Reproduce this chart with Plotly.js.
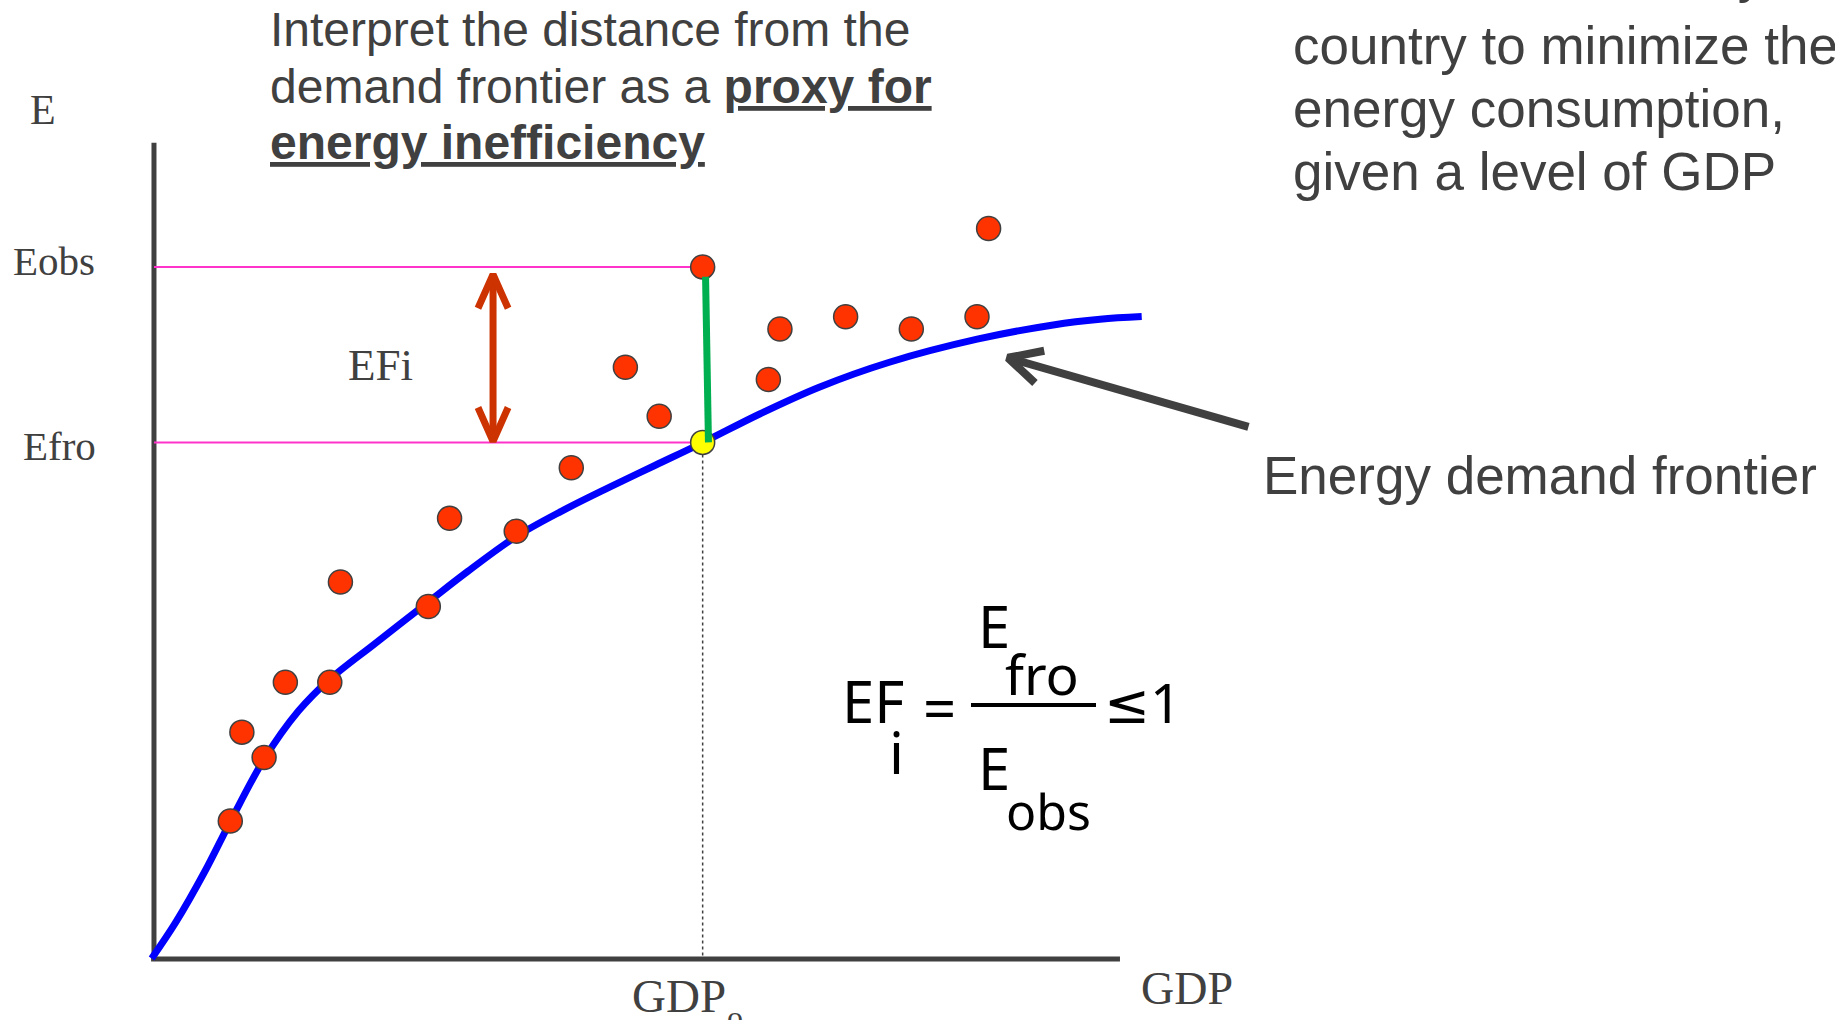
<!DOCTYPE html>
<html>
<head>
<meta charset="utf-8">
<script src="https://cdn.plot.ly/plotly-3.0.1.min.js"></script>
<style>html,body{margin:0;padding:0;background:#fff;overflow:hidden}</style>
</head>
<body>
<div id="chart" style="width:1835px;height:1020px"></div>
<script>
// ---------------- data (GDP / energy, arbitrary units, axis = 0..100) ----------------
const countryGDP = [7.9, 9.1, 11.4, 13.6, 18.2, 19.3, 28.4, 30.6, 37.5, 43.2, 48.8, 52.3, 56.8, 63.6, 64.8, 71.6, 78.4, 85.2, 86.4];
const countryE   = [16.9, 27.8, 24.7, 33.9, 33.9, 46.2, 43.2, 54.0, 52.4, 60.2, 72.5, 66.5, 84.8, 71.0, 77.2, 78.7, 77.2, 78.7, 89.5];

const frontierGDP = [-0.24, 2.23, 5.26, 7.92, 11.44, 14.95, 18.10, 22.83, 28.40, 32.52, 37.48, 42.21, 47.06, 51.90, 56.75, 62.81, 68.86, 76.13, 85.22, 93.09, 97.94, 102.25];
const frontierE   = [0.07, 4.45, 10.72, 16.87, 24.56, 30.38, 34.18, 38.61, 43.75, 47.52, 51.75, 54.88, 57.75, 60.50, 63.25, 66.84, 70.06, 73.12, 75.94, 77.69, 78.38, 78.71];

const GDP0 = 56.8;          // GDP_o
const E_OBS = 84.8;         // observed energy at GDP_o
const E_FRO = 63.3;         // frontier energy at GDP_o
const axisMax = [100, 100]; // [GDP, E] end of drawn axes

const distGDP = [57.1, 57.4];   // green distance segment
const distE   = [83.6, 63.3];

const efArrowGDP = 35.1;            // red double arrow
const efArrowE   = [84.3, 63.0];    // visible tips (top, bottom)

const pointerTip  = [88.0, 73.8];   // arrow pointing at the frontier
const pointerTail = [113.3, 65.2];

// ---------------- layout helpers ----------------
const W = 1835, H = 1020;
const xRange = [-15.94, 174.02], yRange = [-7.47, 117.5];
const pxX = W / (xRange[1] - xRange[0]);
const pxY = H / (yRange[1] - yRange[0]);

// chevron arrow head; dir = data vector from tip back along the shaft
function chevron(tip, dir, len, angDeg, lw) {
  let dx = dir[0] * pxX, dy = dir[1] * pxY;
  const n = Math.hypot(dx, dy); dx /= n; dy /= n;
  const a = angDeg * Math.PI / 180;
  const back = lw / 2;
  const tx = tip[0] + dx * back / pxX, ty = tip[1] + dy * back / pxY;
  const rot = s => [dx * Math.cos(s * a) - dy * Math.sin(s * a), dx * Math.sin(s * a) + dy * Math.cos(s * a)];
  const w1 = rot(1), w2 = rot(-1);
  return {
    x: [tx + w1[0] * len / pxX, tx, tx + w2[0] * len / pxX],
    y: [ty + w1[1] * len / pxY, ty, ty + w2[1] * len / pxY],
    tip: [tx, ty]
  };
}

const RED = '#cc3300', DARK = '#404040', MAG = '#ff33cc';

const headTop = chevron([efArrowGDP, efArrowE[0]], [0, -1], 37, 24, 7);
const headBot = chevron([efArrowGDP, efArrowE[1]], [0, 1], 37, 24, 7);
const pDir = [pointerTail[0] - pointerTip[0], pointerTail[1] - pointerTip[1]];
const headPtr = chevron(pointerTip, pDir, 37, 27, 8);

const traces = [
  {x: [0, GDP0], y: [E_OBS, E_OBS], mode: 'lines', line: {color: MAG, width: 2}, hoverinfo: 'skip'},
  {x: [0, GDP0], y: [E_FRO, E_FRO], mode: 'lines', line: {color: MAG, width: 2}, hoverinfo: 'skip'},
  {x: [GDP0, GDP0], y: [E_FRO, 0], mode: 'lines', line: {color: DARK, width: 1.5, dash: 'dot'}, hoverinfo: 'skip'},
  {x: frontierGDP, y: frontierE, mode: 'lines', line: {color: '#0000ff', width: 7, shape: 'spline', smoothing: 1}, name: 'Energy demand frontier'},
  {x: [efArrowGDP, efArrowGDP], y: [headTop.tip[1], headBot.tip[1]], mode: 'lines', line: {color: RED, width: 7}, hoverinfo: 'skip'},
  {x: headTop.x, y: headTop.y, mode: 'lines', line: {color: RED, width: 7}, hoverinfo: 'skip'},
  {x: headBot.x, y: headBot.y, mode: 'lines', line: {color: RED, width: 7}, hoverinfo: 'skip'},
  {x: countryGDP, y: countryE, mode: 'markers', name: 'countries',
   marker: {size: 24, color: '#ff3300', line: {color: DARK, width: 1.5}}},
  {x: [GDP0], y: [E_FRO], mode: 'markers', name: 'frontier point',
   marker: {size: 24, color: '#ffff00', line: {color: DARK, width: 1.5}}},
  {x: distGDP, y: distE, mode: 'lines', line: {color: '#00b050', width: 7}, hoverinfo: 'skip'},
  {x: [headPtr.tip[0], pointerTail[0]], y: [headPtr.tip[1], pointerTail[1]], mode: 'lines', line: {color: DARK, width: 8}, hoverinfo: 'skip'},
  {x: headPtr.x, y: headPtr.y, mode: 'lines', line: {color: DARK, width: 8}, hoverinfo: 'skip'}
];

// text helper: position by left/center x and baseline (pixels)
function label(text, px, baseline, fs, family, color, xanchor) {
  const k = family.indexOf('Serif') >= 0 ? 0.3375 : (family.indexOf('Noto') >= 0 ? 0.388 : 0.3465);
  return {xref: 'paper', yref: 'paper', x: px / W, y: 1 - (baseline - k * fs) / H,
          xanchor: xanchor || 'left', yanchor: 'middle', showarrow: false, text: text,
          font: {family: family, size: fs, color: color}};
}
const SANS = 'Liberation Sans, Arial, sans-serif';
const SERIF = 'Liberation Serif, Times New Roman, serif';
const HAND = 'Noto Sans, DejaVu Sans, sans-serif';

const annotations = [
  // explanatory text
  label('Interpret the distance from the', 268, 46, 48, SANS, DARK),
  label('demand frontier as a <u><b>proxy for</b></u>', 268, 103, 48, SANS, DARK),
  label('<u><b>energy inefficiency</b></u>', 268, 159, 48, SANS, DARK),
  label('Measures the ability of a', 1291, -8, 53, SANS, DARK),
  label('country to minimize the', 1291, 64, 53, SANS, DARK),
  label('energy consumption,', 1291, 127, 53, SANS, DARK),
  label('given a level of GDP', 1291, 190, 53, SANS, DARK),
  label('Energy demand frontier', 1261, 494, 53, SANS, DARK),
  // axis labels
  label('E', 28, 124, 42, SERIF, DARK),
  label('Eobs', 11, 275, 41, SERIF, DARK),
  label('Efro', 21, 460, 41, SERIF, DARK),
  label('EFi', 346, 380, 45, SERIF, DARK),
  label('GDP', 630, 1012, 47, SERIF, DARK),
  label('o', 725, 1028, 32, SERIF, DARK),
  label('GDP', 1139, 1004, 46, SERIF, DARK),
  // formula
  label('EF', 840, 723, 58, HAND, '#000'),
  label('i', 896, 774, 58, HAND, '#000', 'center'),
  label('=', 939, 730, 58, HAND, '#000', 'center'),
  label('E', 976, 648, 58, HAND, '#000'),
  label('fro', 1003, 695, 55, HAND, '#000'),
  label('E', 976, 790, 58, HAND, '#000'),
  label('obs', 1004, 830, 50, HAND, '#000'),
  label('\u22641', 1102, 723, 55, HAND, '#000')
];

const shapes = [
  {type: 'line', xref: 'x', yref: 'y', x0: -0.3, y0: 0, x1: axisMax[0], y1: 0, line: {color: DARK, width: 5}, layer: 'below'},
  {type: 'line', xref: 'x', yref: 'y', x0: 0, y0: 0, x1: 0, y1: axisMax[1], line: {color: DARK, width: 5}, layer: 'below'},
  // fraction bar of the formula
  {type: 'line', xref: 'paper', yref: 'paper', x0: 971 / W, x1: 1096 / W, y0: 1 - 705 / H, y1: 1 - 705 / H,
   line: {color: '#000', width: 4}}
];

const layout = {
  width: W, height: H,
  margin: {l: 0, r: 0, t: 0, b: 0},
  paper_bgcolor: '#fff', plot_bgcolor: '#fff',
  showlegend: false,
  xaxis: {range: xRange, visible: false, fixedrange: true},
  yaxis: {range: yRange, visible: false, fixedrange: true},
  annotations: annotations,
  shapes: shapes
};

Plotly.newPlot('chart', traces, layout, {displayModeBar: false, staticPlot: true});
</script>
</body>
</html>
